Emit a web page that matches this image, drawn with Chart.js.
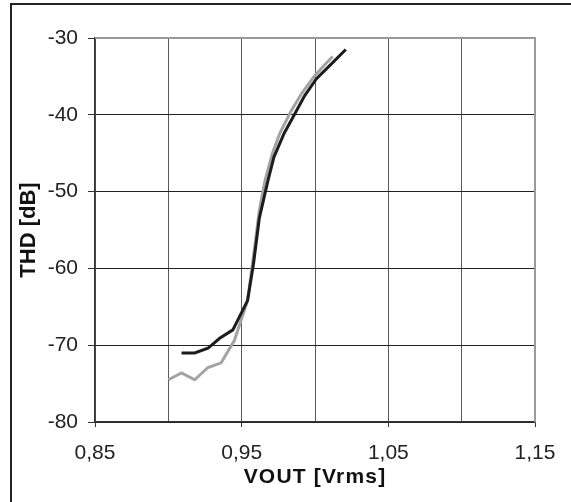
<!DOCTYPE html>
<html>
<head>
<meta charset="utf-8">
<script src="https://cdn.jsdelivr.net/npm/chart.js@4"></script>
<style>
  body { margin: 0; overflow: hidden; background: #fff; }
  #wrap { position: relative; width: 571px; height: 502px; }
  #frame {
    position: absolute; left: 10px; top: 3px; width: 700px; height: 700px;
    border-left: 2px solid #222; border-top: 2px solid #222;
  }
  #thd { position: absolute; left: 0; top: 0; }
</style>
</head>
<body>
<div id="wrap">
  <div id="frame"></div>
  <canvas id="thd" width="571" height="502"></canvas>
</div>
<script>
// Series (VOUT in Vrms, THD in dB)
var blackX = [0.909, 0.918, 0.927, 0.935, 0.944, 0.954, 0.958, 0.962, 0.968, 0.972, 0.979, 0.987, 0.993, 1.001, 1.010, 1.021];
var blackY = [-71.0, -71.0, -70.4, -69.1, -68.0, -64.2, -59.5, -53.5, -48.5, -45.5, -42.4, -39.6, -37.5, -35.3, -33.6, -31.5];

var grayX = [0.900, 0.909, 0.918, 0.927, 0.936, 0.945, 0.954, 0.958, 0.962, 0.966, 0.971, 0.976, 0.984, 0.991, 0.999, 1.006, 1.012];
var grayY = [-74.5, -73.6, -74.5, -72.9, -72.3, -69.4, -64.2, -58.5, -52.5, -48.5, -45.0, -42.4, -39.4, -37.2, -35.1, -33.6, -32.4];

// Axis ticks
var xLabeled = [0.85, 0.95, 1.05, 1.15];
var yTicks = [-80, -70, -60, -50, -40, -30];

var FONT = "'Liberation Sans', Arial, sans-serif";

function toPoints(xs, ys) {
  var pts = [];
  for (var i = 0; i < xs.length; i++) {
    pts.push({ x: xs[i], y: ys[i] });
  }
  return pts;
}

function isLabeled(v) {
  return xLabeled.some(function (l) { return Math.abs(l - v) < 1e-6; });
}

// gray top and right edge of the plot area
var plotBorder = {
  id: "plotBorder",
  afterDatasetsDraw: function (chart) {
    var a = chart.chartArea;
    var c = chart.ctx;
    c.save();
    c.strokeStyle = "#9a9a9a";
    c.lineWidth = 2;
    c.beginPath();
    c.moveTo(a.left, a.top);
    c.lineTo(a.right, a.top);
    c.lineTo(a.right, a.bottom);
    c.stroke();
    c.restore();
  },
};

// the x title in the original is spaced out a little
var spacedTitle = {
  id: "spacedTitle",
  beforeDraw: function (chart) {
    var s = chart.scales.x;
    if (!s || s._spaced) return;
    var orig = s.drawTitle;
    s.drawTitle = function () {
      this.ctx.letterSpacing = "1.2px";
      orig.apply(this, arguments);
      this.ctx.letterSpacing = "0px";
    };
    s._spaced = true;
  },
};

var ctx = document.getElementById("thd");
var chart = new Chart(ctx, {
  type: "line",
  data: {
    datasets: [
      {
        label: "A",
        data: toPoints(blackX, blackY),
        borderColor: "#1c1c1c",
        borderWidth: 3,
        order: 0,
      },
      {
        label: "B",
        data: toPoints(grayX, grayY),
        borderColor: "#a3a3a3",
        borderWidth: 3,
        order: 1,
      },
    ],
  },
  plugins: [plotBorder, spacedTitle],
  options: {
    responsive: false,
    animation: false,
    layout: { padding: { left: 10, top: 38, right: 36, bottom: 0 } },
    elements: {
      line: { tension: 0, fill: false },
      point: { radius: 0, hoverRadius: 0 },
    },
    plugins: {
      legend: { display: false },
      tooltip: { enabled: false },
    },
    scales: {
      x: {
        type: "linear",
        min: 0.85,
        max: 1.15,
        afterFit: function (s) { s.height = 80; },
        afterBuildTicks: function (s) {
          s.ticks = [];
          for (var i = 0; i <= 6; i++) s.ticks.push({ value: Math.round((0.85 + i * 0.05) * 100) / 100 });
        },
        border: { color: "#333", width: 1.5 },
        grid: {
          color: "#5a5a5a",
          lineWidth: 1,
          tickLength: 5,
          tickColor: function (c) { return c.tick && isLabeled(c.tick.value) ? "#333" : "rgba(0,0,0,0)"; },
        },
        ticks: {
          autoSkip: false,
          maxRotation: 0,
          padding: 14,
          color: "#222",
          font: { family: FONT, size: 21 },
          callback: function (v) { return isLabeled(v) ? v.toFixed(2).replace(".", ",") : ""; },
        },
        title: {
          display: true,
          text: "VOUT [Vrms]",
          color: "#111",
          font: { family: FONT, size: 21, weight: "bold" },
          padding: { top: 0, bottom: 12 },
        },
      },
      y: {
        min: -80,
        max: -30,
        afterFit: function (s) { s.width = 85; },
        afterBuildTicks: function (s) {
          s.ticks = yTicks.map(function (v) { return { value: v }; });
        },
        border: { color: "#333", width: 1.5 },
        grid: {
          color: "#222",
          lineWidth: 1,
          tickLength: 7,
          tickColor: "#333",
        },
        ticks: {
          padding: 10,
          color: "#222",
          font: { family: FONT, size: 21 },
        },
        title: {
          display: true,
          text: "THD [dB]",
          color: "#111",
          font: { family: FONT, size: 22, weight: "bold" },
          padding: { top: 6, bottom: 0 },
        },
      },
    },
  },
});
</script>
</body>
</html>
